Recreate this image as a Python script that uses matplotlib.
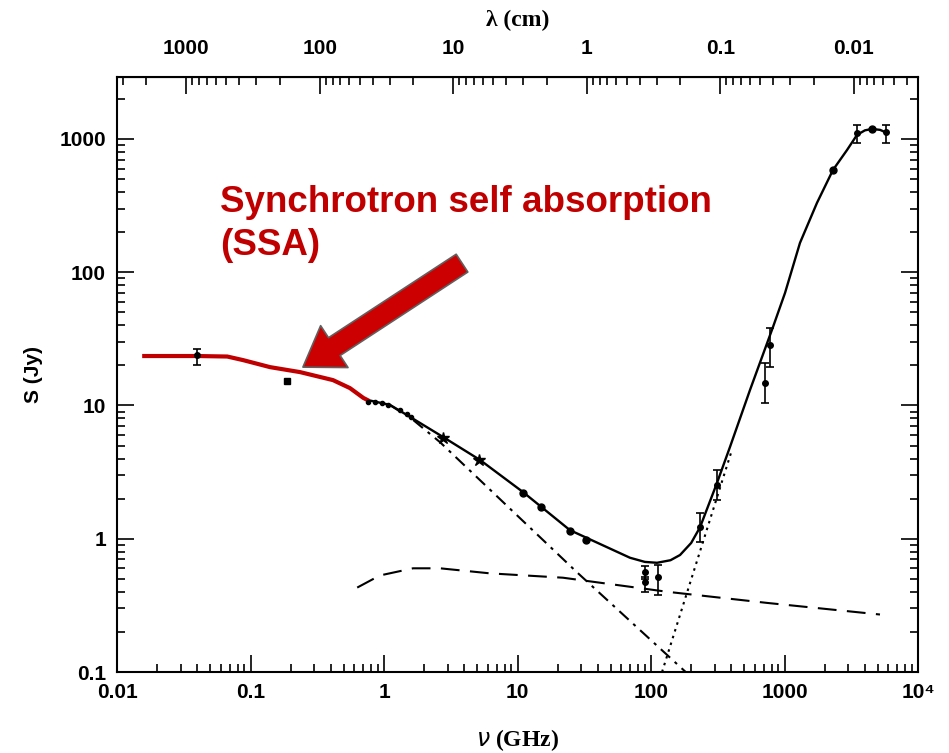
import numpy as np
import matplotlib
matplotlib.use("Agg")
import matplotlib.pyplot as plt
from matplotlib.ticker import LogLocator, FixedLocator, FixedFormatter, NullFormatter

# 红色曲线: 同步自吸收 (SSA) 段
ssa_nu = [0.016, 0.04, 0.067, 0.088, 0.14, 0.235, 0.415, 0.556, 0.70, 0.75]
ssa_s = [23.5, 23.5, 23.3, 21.9, 19.4, 17.8, 15.5, 13.5, 11.4, 11.0]

# 黑色实线: 总谱
tot_nu = [0.75, 1.11, 1.57, 2.77, 5.24, 11.0, 24.7, 45.0, 69.6, 90.0, 111, 140, 165, 200, 233,
          312, 391, 552, 820, 1009, 1306, 1750, 2307, 2940, 3491, 4000, 4520, 5200, 5860]
tot_s = [11.0, 10.1, 8.2, 5.8, 3.9, 2.24, 1.16, 0.88, 0.72, 0.67, 0.66, 0.69, 0.755, 0.93, 1.22,
         2.62, 4.9, 13.1, 38.8, 69.9, 166, 331, 585, 826, 1072, 1160, 1189, 1170, 1109]

# 点划线: 同步辐射
sync_nu = [1.1, 1.6, 2.63, 27.9, 186]
sync_s = [10.1, 8.0, 5.3, 0.56, 0.098]

# 点线: 尘埃
dust_nu = [121, 400]
dust_s = [0.1, 4.5]

# 虚线: 自由-自由
ff_nu = [0.63, 0.93, 1.65, 2.63, 6.2, 21.9, 132, 740, 5190]
ff_s = [0.43, 0.53, 0.60, 0.60, 0.55, 0.51, 0.40, 0.33, 0.27]

# 观测点 (无误差棒)
small_nu = [0.76, 0.86, 0.97, 1.07, 1.32, 1.49, 1.59]
small_s = [10.6, 10.6, 10.4, 10.1, 9.25, 8.6, 8.2]
star_nu = [2.77, 5.15]
star_s = [5.7, 3.9]
dot_nu = [11.0, 15.0, 24.7, 32.6, 2307, 4520]
dot_s = [2.20, 1.73, 1.14, 0.98, 585, 1189]
sq_nu = [0.188]
sq_s = [15.3]

# 观测点 (带误差棒)
eb_nu = [0.040, 90, 90, 113, 233, 312, 714, 778, 3491, 5760]
eb_s = [23.9, 0.56, 0.47, 0.52, 1.22, 2.53, 14.8, 28.5, 1109, 1129]
eb_lo = [20.1, 0.50, 0.40, 0.38, 0.95, 1.95, 10.4, 19.5, 933, 933]
eb_hi = [26.5, 0.62, 0.52, 0.635, 1.56, 3.28, 20.8, 38.2, 1274, 1274]

x_ticks = [0.01, 0.1, 1, 10, 100, 1000, 1e4]
x_labels = ["0.01", "0.1", "1", "10", "100", "1000", "10⁴"]
y_ticks = [0.1, 1, 10, 100, 1000]
y_labels = ["0.1", "1", "10", "100", "1000"]
lam_ticks = [1000, 100, 10, 1, 0.1, 0.01]
lam_labels = ["1000", "100", "10", "1", "0.1", "0.01"]

tick_font = {"family": ["Liberation Sans", "DejaVu Sans"], "weight": "bold", "size": 15}
label_font = {"family": ["Liberation Serif", "DejaVu Serif"], "weight": "bold", "size": 17}

fig = plt.figure(figsize=(9.49, 7.53), dpi=100)
ax = fig.add_axes([117 / 949, 81 / 753, 801 / 949, 595 / 753])
ax.set_xscale("log")
ax.set_yscale("log")
ax.set_xlim(0.01, 1e4)
ax.set_ylim(0.1, 2917)

# 模型曲线
ax.plot(ff_nu, ff_s, color="black", lw=1.5, dashes=(9, 5))
ax.plot(sync_nu, sync_s, color="black", lw=1.5, dashes=(6, 3, 1.5, 3))
ax.plot(dust_nu, dust_s, color="black", lw=1.5, dashes=(1.2, 2.2))
ax.plot(tot_nu, tot_s, color="black", lw=1.7)
ax.plot(ssa_nu, ssa_s, color="#c00000", lw=3)

# 数据点
ax.plot(small_nu, small_s, "o", color="black", ms=3)
ax.plot(star_nu, star_s, "*", color="black", ms=9)
ax.plot(dot_nu, dot_s, "o", color="black", ms=5)
ax.plot(sq_nu, sq_s, "s", color="black", ms=5)
eb_s_arr = np.array(eb_s)
yerr = [eb_s_arr - np.array(eb_lo), np.array(eb_hi) - eb_s_arr]
ax.errorbar(eb_nu, eb_s, yerr=yerr, fmt="o", color="black", ms=4, capsize=3, elinewidth=1.2, capthick=1.2)

# 坐标轴刻度
ax.tick_params(axis="both", which="both", direction="in", top=False, right=True, width=1.2)
ax.tick_params(axis="both", which="major", length=12, pad=8)
ax.tick_params(axis="both", which="minor", length=6)
ax.xaxis.set_major_locator(FixedLocator(x_ticks))
ax.xaxis.set_major_formatter(FixedFormatter(x_labels))
ax.xaxis.set_minor_locator(LogLocator(base=10, subs=np.arange(2, 10), numticks=20))
ax.xaxis.set_minor_formatter(NullFormatter())
ax.yaxis.set_major_locator(FixedLocator(y_ticks))
ax.yaxis.set_major_formatter(FixedFormatter(y_labels))
ax.yaxis.set_minor_locator(LogLocator(base=10, subs=np.arange(2, 10), numticks=20))
ax.yaxis.set_minor_formatter(NullFormatter())
for lab in ax.get_xticklabels() + ax.get_yticklabels():
    lab.set_fontproperties(tick_font)
for sp in ax.spines.values():
    sp.set_linewidth(1.5)

ax.set_xlabel(r"$\nu$ (GHz)", fontdict=label_font, labelpad=18)
ax.set_ylabel("S (Jy)", fontdict={"family": ["Liberation Sans", "DejaVu Sans"], "weight": "bold",
                                  "size": 15}, labelpad=12)

# 顶部波长轴
top = ax.secondary_xaxis("top", functions=(lambda nu: 33.0 / nu, lambda lam: 33.0 / lam))
top.xaxis.set_major_locator(FixedLocator(lam_ticks))
top.xaxis.set_major_formatter(FixedFormatter(lam_labels))
top.xaxis.set_minor_locator(LogLocator(base=10, subs=np.arange(2, 10), numticks=20))
top.xaxis.set_minor_formatter(NullFormatter())
top.tick_params(axis="x", which="both", direction="in", width=1.2)
top.tick_params(axis="x", which="major", length=12, pad=14)
top.tick_params(axis="x", which="minor", length=6)
for lab in top.get_xticklabels():
    lab.set_fontproperties(tick_font)
top.set_xlabel("λ (cm)", fontdict=label_font, labelpad=9)

# 注释文字与箭头
ax.text(0.059, 455, "Synchrotron self absorption\n(SSA)", color="#c00000",
        fontfamily=["Liberation Sans", "DejaVu Sans"], fontweight="bold", fontsize=26.5,
        va="top", ha="left", linespacing=1.3)
ax.annotate("", xy=(0.247, 19.4), xytext=(3.84, 117),
            arrowprops=dict(arrowstyle="simple,head_width=2.0,head_length=1.5,tail_width=0.85",
                            fc="#cc0000", ec="#606060", lw=1.2, mutation_scale=18,
                            shrinkA=0, shrinkB=0))

plt.savefig("out.png", dpi=100)
